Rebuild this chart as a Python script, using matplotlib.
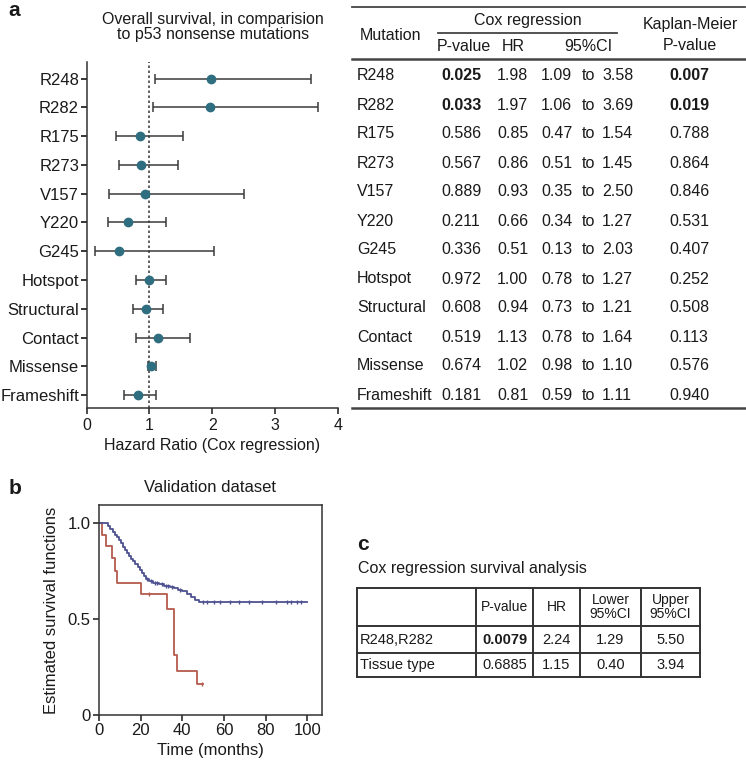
import numpy as np
import matplotlib
matplotlib.use("Agg")
from matplotlib import pyplot as plt

plt.rcParams['font.family'] = ['Liberation Sans', 'DejaVu Sans']

# panel a data
mutations = ["R248", "R282", "R175", "R273", "V157", "Y220", "G245",
             "Hotspot", "Structural", "Contact", "Missense", "Frameshift"]
cox_p = ["0.025", "0.033", "0.586", "0.567", "0.889", "0.211", "0.336",
         "0.972", "0.608", "0.519", "0.674", "0.181"]
hr = [1.98, 1.97, 0.85, 0.86, 0.93, 0.66, 0.51, 1.00, 0.94, 1.13, 1.02, 0.81]
ci_low = [1.09, 1.06, 0.47, 0.51, 0.35, 0.34, 0.13, 0.78, 0.73, 0.78, 0.98, 0.59]
ci_high = [3.58, 3.69, 1.54, 1.45, 2.50, 1.27, 2.03, 1.27, 1.21, 1.64, 1.10, 1.11]
km_p = ["0.007", "0.019", "0.788", "0.864", "0.846", "0.531", "0.407",
        "0.252", "0.508", "0.113", "0.576", "0.940"]
bold_rows = [0, 1]

# panel b data (Kaplan-Meier steps)
red_t = [0, 1.5, 3.5, 6, 7.5, 8.5, 20, 32.5, 36, 37.5, 47]
red_s = [1.0, 0.94, 0.88, 0.82, 0.75, 0.69, 0.63, 0.55, 0.31, 0.23, 0.16]
red_end = 50
red_censor = [24, 49.5]

blue_t = [0, 4.5, 5.5, 6.5, 7.5, 8.5, 9.5, 10.5, 11.5, 12.5, 13.5, 14.5, 15.5,
          16.5, 17.5, 18.5, 19.5, 20.5, 21.5, 22.5, 24, 26, 29, 31, 34, 36,
          38, 40, 42, 44, 46, 48]
blue_s = [1.0, 0.985, 0.97, 0.955, 0.94, 0.925, 0.91, 0.895, 0.875, 0.86, 0.845,
          0.83, 0.815, 0.80, 0.785, 0.77, 0.755, 0.74, 0.725, 0.71, 0.70, 0.69,
          0.68, 0.67, 0.665, 0.66, 0.65, 0.645, 0.63, 0.615, 0.60, 0.59]
blue_end = 100
blue_censor = [23, 25, 27, 28, 30, 32, 33, 35, 39, 50, 52, 55, 58, 63, 67, 72,
               78, 85, 90, 92, 95, 97]

# panel c data
c_rows = ["R248,R282", "Tissue type"]
c_p = ["0.0079", "0.6885"]
c_hr = ["2.24", "1.15"]
c_low = ["1.29", "0.40"]
c_high = ["5.50", "3.94"]

W, H = 746, 764
fig = plt.figure(figsize=(W / 100, H / 100), dpi=100)

# overlay in pixel coordinates for labels and tables
ov = fig.add_axes([0, 0, 1, 1])
ov.set_xlim(0, W)
ov.set_ylim(H, 0)
ov.axis("off")

txt = "#1a1a1a"
line_c = "#333333"

ov.text(8, 10, "a", fontsize=15, fontweight="bold", va="center", color=txt)
ov.text(9, 488, "b", fontsize=15, fontweight="bold", va="center", color=txt)
ov.text(357, 545, "c", fontsize=15, fontweight="bold", va="center", color=txt)

# ---- panel a forest plot
ax = fig.add_axes([86.7 / W, 1 - 408 / H, 251 / W, (408 - 61.7) / H])
y = np.arange(len(mutations))
hr_a = np.array(hr)
err = [hr_a - np.array(ci_low), np.array(ci_high) - hr_a]
ax.axvline(1, color="#444444", ls=(0, (1.5, 1.5)), lw=1.2, zorder=1)
ax.errorbar(hr_a, y, xerr=err, fmt="none", ecolor="#3a3a3a", elinewidth=1.1,
            capsize=3.5, capthick=1.1, zorder=2)
ax.plot(hr_a, y, "o", color="#2f6e80", ms=6, zorder=3)
ax.set_xlim(0, 4)
ax.set_ylim(len(mutations) - 0.55, -0.59)
ax.set_yticks(y)
ax.set_yticklabels(mutations, fontsize=12, color=txt)
ax.set_xticks([0, 1, 2, 3, 4])
ax.tick_params(axis="x", labelsize=11.5, direction="out", length=4, width=1.1, colors=txt)
ax.tick_params(axis="y", direction="out", length=4, width=1.1, pad=1.5)
ax.set_xlabel("Hazard Ratio (Cox regression)", fontsize=11.5, color=txt, labelpad=3)
for s in ["top", "right"]:
    ax.spines[s].set_visible(False)
for s in ["left", "bottom"]:
    ax.spines[s].set_linewidth(1.1)
    ax.spines[s].set_color(line_c)
ov.text(213, 27, "Overall survival, in comparision\nto p53 nonsense mutations",
        ha="center", va="center", fontsize=11.5, linespacing=1.0, color=txt)

# ---- panel a table
ov.plot([352, 745], [7.3, 7.3], color="#444444", lw=1.3)
ov.plot([438, 617], [33.3, 33.3], color="#444444", lw=1.3)
ov.plot([352, 745], [59.3, 59.3], color="#444444", lw=1.8)
ov.plot([352, 745], [408.3, 408.3], color="#444444", lw=1.8)
ov.text(360, 35, "Mutation", fontsize=11.5, va="center", color=txt)
ov.text(528, 21, "Cox regression", fontsize=11.5, va="center", ha="center", color=txt)
ov.text(437, 46.5, "P-value", fontsize=11.5, va="center", color=txt)
ov.text(513, 46.5, "HR", fontsize=11.5, va="center", ha="center", color=txt)
ov.text(588, 46.5, "95%CI", fontsize=11.5, va="center", ha="center", color=txt)
ov.text(690, 25, "Kaplan-Meier", fontsize=11.5, va="center", ha="center", color=txt)
ov.text(690, 45, "P-value", fontsize=11.5, va="center", ha="center", color=txt)
for i, m in enumerate(mutations):
    ry = 76 + 29 * i
    w = "bold" if i in bold_rows else "normal"
    ov.text(357, ry, m, fontsize=11.5, va="center", color=txt)
    ov.text(441, ry, cox_p[i], fontsize=11.5, va="center", fontweight=w, color=txt)
    ov.text(497, ry, f"{hr[i]:.2f}", fontsize=11.5, va="center", color=txt)
    ov.text(541, ry, f"{ci_low[i]:.2f}", fontsize=11.5, va="center", color=txt)
    ov.text(582, ry, "to", fontsize=11.5, va="center", color=txt)
    ov.text(602, ry, f"{ci_high[i]:.2f}", fontsize=11.5, va="center", color=txt)
    ov.text(689, ry, km_p[i], fontsize=11.5, va="center", ha="center", fontweight=w, color=txt)

# ---- panel b Kaplan-Meier
kx = fig.add_axes([99 / W, 1 - 715 / H, 223 / W, 210 / H])
red = "#b5594d"
blue = "#4d5190"


def step_value(times, surv, t):
    idx = np.searchsorted(times, t, side="right") - 1
    return np.array(surv)[idx]


kx.step(red_t + [red_end], red_s + [red_s[-1]], where="post", color=red, lw=1.3)
kx.step(blue_t + [blue_end], blue_s + [blue_s[-1]], where="post", color=blue, lw=1.3)
kx.plot(red_censor, step_value(red_t, red_s, red_censor), "|", color=red, ms=3.5, mew=1)
kx.plot(blue_censor, step_value(blue_t, blue_s, blue_censor), "|", color=blue, ms=3.5, mew=1)
kx.set_xlim(0, 107)
kx.set_ylim(0, 1.094)
kx.set_xticks([0, 20, 40, 60, 80, 100])
kx.set_yticks([0, 0.5, 1.0])
kx.set_yticklabels(["0", "0.5", "1.0"])
kx.tick_params(labelsize=12, direction="out", length=4, width=1.1, colors=txt, pad=2)
for s in kx.spines.values():
    s.set_linewidth(1.1)
    s.set_color(line_c)
kx.set_xlabel("Time (months)", fontsize=12, color=txt, labelpad=3)
kx.set_ylabel("Estimated survival functions", fontsize=12, color=txt, labelpad=6)
kx.set_title("Validation dataset", fontsize=12, color=txt, pad=9)

# legend drawn by hand to mimic the short censor handles
for ly, lab, col in [(521.5, "R248/R282", red), (539, "Other mutations", blue)]:
    ov.plot([177, 187], [ly, ly], color=col, lw=1.2)
    ov.plot([182], [ly], "|", color=col, ms=3, mew=1)
    ov.text(190, ly, lab, fontsize=12, va="center", color=txt)
ov.text(194, 627, "P=0.008", fontsize=12, va="center", color=txt)
ov.text(194, 647, "(Kaplan-Meier)", fontsize=12, va="center", color=txt)

# ---- panel c table
ov.text(358, 568, "Cox regression survival analysis", fontsize=11.5, va="center", color=txt)
cx = [357, 476, 533, 580, 641, 700]
cy = [588, 626, 653, 677]
for xv in cx:
    ov.plot([xv, xv], [cy[0], cy[-1]], color=line_c, lw=1.4)
for yv in cy:
    ov.plot([cx[0], cx[-1]], [yv, yv], color=line_c, lw=1.4)
hy = (cy[0] + cy[1]) / 2
ov.text((cx[1] + cx[2]) / 2, hy, "P-value", fontsize=10, ha="center", va="center", color=txt)
ov.text((cx[2] + cx[3]) / 2, hy, "HR", fontsize=10, ha="center", va="center", color=txt)
ov.text((cx[3] + cx[4]) / 2, hy, "Lower\n95%CI", fontsize=10, ha="center", va="center",
        linespacing=1.0, color=txt)
ov.text((cx[4] + cx[5]) / 2, hy, "Upper\n95%CI", fontsize=10, ha="center", va="center",
        linespacing=1.0, color=txt)
for i, lab in enumerate(c_rows):
    ry = (cy[i + 1] + cy[i + 2]) / 2
    ov.text(360, ry, lab, fontsize=10.5, va="center", color=txt)
    ov.text((cx[1] + cx[2]) / 2, ry, c_p[i], fontsize=10.5, ha="center", va="center",
            fontweight="bold" if i == 0 else "normal", color=txt)
    ov.text((cx[2] + cx[3]) / 2, ry, c_hr[i], fontsize=10.5, ha="center", va="center", color=txt)
    ov.text((cx[3] + cx[4]) / 2, ry, c_low[i], fontsize=10.5, ha="center", va="center", color=txt)
    ov.text((cx[4] + cx[5]) / 2, ry, c_high[i], fontsize=10.5, ha="center", va="center", color=txt)

fig.savefig("out.png", dpi=100)
